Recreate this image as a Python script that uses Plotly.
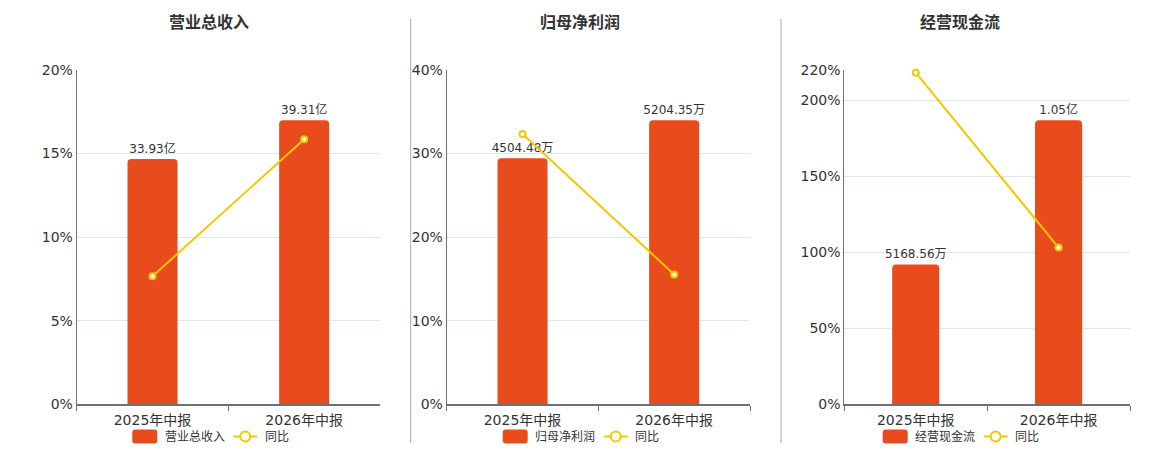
import plotly.graph_objects as go

categories = ["2025年中报", "2026年中报"]

revenue = [33.93, 39.31]
revenue_labels = ["33.93亿", "39.31亿"]
revenue_yoy = [7.66, 15.86]

profit = [4504.48, 5204.35]
profit_labels = ["4504.48万", "5204.35万"]
profit_yoy = [32.34, 15.54]

cash = [5168.56, 10500.0]
cash_labels = ["5168.56万", "1.05亿"]
cash_yoy = [218.2, 103.15]

titles = ["营业总收入", "归母净利润", "经营现金流"]
bar_names = ["营业总收入", "归母净利润", "经营现金流"]
line_name = "同比"

W, H = 1160, 450
BAR_COLOR = "#E84B1C"
LINE_COLOR = "#F2C800"
TEXT = "#333333"
AXIS = "#6E7079"
GRID = "#E0E6F1"
FONT = "DejaVu Sans, Noto Sans CJK SC, sans-serif"

# screen-pixel -> paper mapping (page offset / effective drawing height)
OX, OY, EH = 8.0, 16.0, 434.0

def px(x):
    return (x - OX) / W

def py(y):
    return 1 - (y - OY) / EH

panels = [
    dict(bars=revenue, labels=revenue_labels, yoy=revenue_yoy,
         xdom=(76.7, 380.0), prange=[0, 20], tickvals=[0, 5, 10, 15, 20],
         title_x=209, legend_left=132.3),
    dict(bars=profit, labels=profit_labels, yoy=profit_yoy,
         xdom=(446.7, 750.0), prange=[0, 40], tickvals=[0, 10, 20, 30, 40],
         title_x=580, legend_left=502.7),
    dict(bars=cash, labels=cash_labels, yoy=cash_yoy,
         xdom=(844.3, 1130.0), prange=[0, 220], tickvals=[0, 50, 100, 150, 200, 220],
         title_x=960, legend_left=882.7),
]

ydom = [py(404.3), py(70.0)]

fig = go.Figure()
layout = dict(
    width=W, height=H,
    margin=dict(l=0, r=0, t=0, b=0),
    paper_bgcolor="white", plot_bgcolor="white",
    font=dict(family=FONT, color=TEXT, size=12),
    hovermode=False, showlegend=False,
    annotations=[], shapes=[],
)

def rounded_rect(x0, y0, x1, y1, r):
    # screen px -> paper path with quadratic-rounded corners
    X = px
    Y = py
    return (f"M{X(x0 + r)},{Y(y0)} L{X(x1 - r)},{Y(y0)} "
            f"Q{X(x1)},{Y(y0)} {X(x1)},{Y(y0 + r)} "
            f"L{X(x1)},{Y(y1 - r)} Q{X(x1)},{Y(y1)} {X(x1 - r)},{Y(y1)} "
            f"L{X(x0 + r)},{Y(y1)} Q{X(x0)},{Y(y1)} {X(x0)},{Y(y1 - r)} "
            f"L{X(x0)},{Y(y0 + r)} Q{X(x0)},{Y(y0)} {X(x0 + r)},{Y(y0)} Z")

for i, p in enumerate(panels):
    n = i + 1
    xname = "x" if n == 1 else f"x{n}"
    yb = 2 * n - 1
    yl = 2 * n
    ybname = "y" if yb == 1 else f"y{yb}"
    ylname = f"y{yl}"

    fig.add_trace(go.Bar(
        x=categories, y=p["bars"], text=p["labels"],
        textposition="outside", constraintext="none",
        textfont=dict(size=12, color=TEXT),
        marker=dict(color=BAR_COLOR, cornerradius=4, line=dict(width=0)),
        width=0.33, name=bar_names[i], xaxis=xname, yaxis=ybname,
        cliponaxis=False,
    ))
    fig.add_trace(go.Scatter(
        x=categories, y=p["yoy"], mode="lines+markers",
        line=dict(color=LINE_COLOR, width=2),
        marker=dict(symbol="circle", size=6, color="white",
                    line=dict(color=LINE_COLOR, width=2)),
        name=line_name, xaxis=xname, yaxis=ylname,
        cliponaxis=False,
    ))

    xkey = "xaxis" if n == 1 else f"xaxis{n}"
    ybkey = "yaxis" if yb == 1 else f"yaxis{yb}"
    ylkey = f"yaxis{yl}"

    layout[xkey] = dict(
        domain=[px(p["xdom"][0]), px(p["xdom"][1])],
        anchor=ybname, type="category",
        showline=True, linecolor=AXIS, linewidth=2,
        ticks="outside", tickson="boundaries", ticklen=5, tickcolor=AXIS,
        ticklabelstandoff=2,
        tickfont=dict(size=14, color=TEXT), showgrid=False, fixedrange=True,
    )
    layout[ybkey] = dict(
        domain=ydom, anchor=xname,
        range=[0, max(p["bars"]) / 0.85],
        showgrid=False, showticklabels=False, zeroline=False, showline=False,
        fixedrange=True,
    )
    layout[ylkey] = dict(
        overlaying=ybname, anchor=xname, side="left",
        range=p["prange"], tickvals=p["tickvals"],
        ticktext=[f"{v}%" for v in p["tickvals"]],
        showgrid=True, gridcolor=GRID, gridwidth=1,
        zeroline=False, showline=True, linecolor=AXIS, linewidth=1,
        ticks="", tickfont=dict(size=14, color=TEXT), fixedrange=True,
    )
    layout["annotations"].append(dict(
        text=f"<b>{titles[i]}</b>", x=px(p["title_x"]), y=py(22),
        xref="paper", yref="paper", xanchor="center", yanchor="middle",
        showarrow=False, font=dict(size=16, color=TEXT),
    ))

    # legend (drawn as decorations)
    L = p["legend_left"]
    ly = 436.5
    layout["shapes"].append(dict(
        type="path", xref="paper", yref="paper",
        path=rounded_rect(L, ly - 7, L + 25, ly + 7, 3),
        fillcolor=BAR_COLOR, line=dict(width=0),
    ))
    layout["annotations"].append(dict(
        text=bar_names[i], x=px(L + 30.5), y=py(ly), xref="paper", yref="paper",
        xanchor="left", yanchor="middle", showarrow=False,
        font=dict(size=12, color=TEXT),
    ))
    layout["shapes"].append(dict(
        type="line", xref="paper", yref="paper",
        x0=px(L + 101), x1=px(L + 125), y0=py(ly), y1=py(ly),
        line=dict(color=LINE_COLOR, width=2),
    ))
    layout["shapes"].append(dict(
        type="circle", xref="paper", yref="paper",
        x0=px(L + 108), x1=px(L + 118), y0=py(ly - 5), y1=py(ly + 5),
        fillcolor="white", line=dict(color=LINE_COLOR, width=2),
    ))
    layout["annotations"].append(dict(
        text=line_name, x=px(L + 130.5), y=py(ly), xref="paper", yref="paper",
        xanchor="left", yanchor="middle", showarrow=False,
        font=dict(size=12, color=TEXT),
    ))

for sx in (410.7, 781.0):
    layout["shapes"].append(dict(
        type="line", xref="paper", yref="paper",
        x0=px(sx), x1=px(sx), y0=py(19), y1=py(443),
        line=dict(color="#AAAAAA", width=1),
    ))

fig.update_layout(**layout)
fig.write_html("out.html")
